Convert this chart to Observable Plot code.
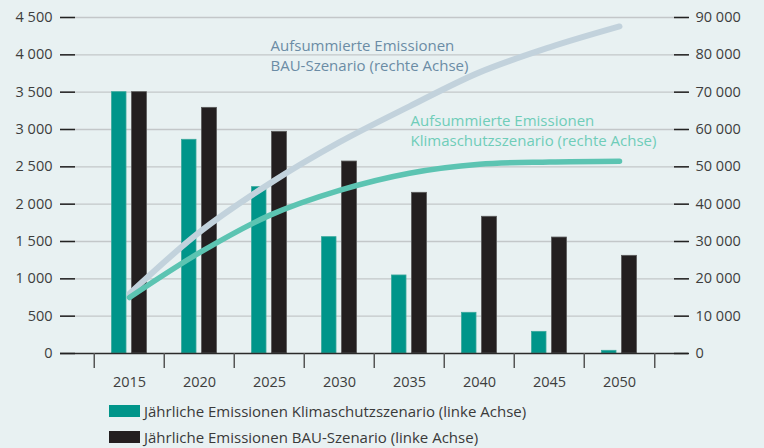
<!DOCTYPE html>
<html><head><meta charset="utf-8">
<script src="https://cdn.jsdelivr.net/npm/d3@7"></script>
<script src="https://cdn.jsdelivr.net/npm/@observablehq/plot@0.6"></script>
<style>
html,body{margin:0;padding:0;background:#e8f1f2;}
body{width:764px;height:448px;overflow:hidden;font-family:"Open Sans",sans-serif;}
#chart svg{display:block;}
.legend{padding-left:109px;padding-top:2px;}
.row{display:flex;align-items:center;height:26px;font-size:15px;color:#3a3a3a;white-space:nowrap;}
.sw{width:31px;height:12px;margin-right:4px;flex:none;}
</style></head>
<body>
<div id="chart"></div>
<div class="legend" id="legend"></div>
<script>
const years = ["2015","2020","2025","2030","2035","2040","2045","2050"];
const klimaAnnual = [3500, 2862, 2228, 1558, 1045, 545, 290, 36];
const bauAnnual = [3500, 3290, 2969, 2571, 2152, 1831, 1553, 1308];
const bauCumulative = [16000, 32500, 45500, 56600, 66200, 75300, 82000, 87600];
const klimaCumulative = [15000, 27000, 37000, 43700, 48300, 50700, 51300, 51500];
const leftTicks = [0, 500, 1000, 1500, 2000, 2500, 3000, 3500, 4000, 4500];
const rightPerLeft = 20;
const legendLabels = [
  "Jährliche Emissionen Klimaschutzszenario (linke Achse)",
  "Jährliche Emissionen BAU-Szenario (linke Achse)"
];
const annotations = [
  {year: "2025", value: 80000, label: "Aufsummierte Emissionen\nBAU-Szenario (rechte Achse)", key: "bau"},
  {year: "2035", value: 60000, label: "Aufsummierte Emissionen\nKlimaschutzszenario (rechte Achse)", key: "klima"}
];

const colors = {klimaBar: "#00958a", bauBar: "#231f20", bauLine: "#c2d2dc", klimaLine: "#5cc4b2", bauText: "#6b8ca5", klimaText: "#6fcdb9"};

const fmt = d3.formatLocale({decimal: ",", thousands: " ", grouping: [3], currency: ["", ""]}).format(",d");

const W = 764, H = 396, mL = 60, mR = 76, mT = 17, mB = 43;
const padOuter = 0.454;
const step = (W - mL - mR) / (years.length + 2 * padOuter);

const bars = years.map((y, i) => ({year: y, klima: klimaAnnual[i], bau: bauAnnual[i]}));
const cum = years.map((y, i) => ({year: y, bau: bauCumulative[i] / rightPerLeft, klima: klimaCumulative[i] / rightPerLeft}));
const notes = annotations.map(a => ({...a, v: a.value / rightPerLeft}));

const plot = Plot.plot({
  width: W, height: H,
  marginLeft: mL, marginRight: mR, marginTop: mT, marginBottom: mB,
  style: {background: "transparent", fontFamily: "'Open Sans', sans-serif", fontSize: "14.5px", color: "#3d3d3d", overflow: "visible"},
  x: {type: "band", domain: years, paddingInner: 0, paddingOuter: padOuter, axis: null, label: null},
  y: {domain: [0, 4500], axis: null, label: null},
  marks: [
    Plot.ruleY(leftTicks.filter(d => d > 0), {stroke: "#c3c7c9", strokeWidth: 1.3}),
    Plot.barY(bars, {x: "year", y: "klima", fill: colors.klimaBar, stroke: "#3aa89c", strokeWidth: 0.8, insetLeft: 17.5, insetRight: 38}),
    Plot.barY(bars, {x: "year", y: "bau", fill: colors.bauBar, stroke: "#5a5a5a", strokeWidth: 0.8, insetLeft: 37.5, insetRight: 17.5}),
    Plot.ruleY([0], {stroke: "#2b2b2b", strokeWidth: 1.5}),
    Plot.line(cum, {x: "year", y: "bau", stroke: colors.bauLine, strokeWidth: 6, curve: "catmull-rom", strokeLinecap: "round"}),
    Plot.line(cum, {x: "year", y: "klima", stroke: colors.klimaLine, strokeWidth: 5.5, curve: "catmull-rom", strokeLinecap: "round"}),
    Plot.text(notes, {x: "year", y: "v", text: "label", textAnchor: "start", lineAnchor: "middle", lineHeight: 1.33, fontSize: 15, dx: 1,
      fill: d => d.key === "bau" ? colors.bauText : colors.klimaText}),
    Plot.axisY(leftTicks, {anchor: "left", label: null, tickSize: 15, dx: 15, tickPadding: 8, stroke: "#222", strokeWidth: 1.5, tickFormat: fmt, fill: "#3d3d3d"}),
    Plot.axisY(leftTicks, {anchor: "right", label: null, tickSize: 15, dx: -15, tickPadding: 7, stroke: "#222", strokeWidth: 1.5, tickFormat: d => fmt(d * rightPerLeft), fill: "#3d3d3d"}),
    Plot.axisX(years, {label: null, tickSize: 15, dx: -step / 2, tickFormat: () => "", stroke: "#555", strokeWidth: 1.5}),
    Plot.axisX([years[years.length - 1]], {label: null, tickSize: 15, dx: step / 2, tickFormat: () => "", stroke: "#555", strokeWidth: 1.5}),
    Plot.axisX(years, {label: null, tickSize: 0, tickPadding: 23, fill: "#3d3d3d"})
  ]
});
document.getElementById("chart").appendChild(plot);

const legend = document.getElementById("legend");
[colors.klimaBar, colors.bauBar].forEach((c, i) => {
  const row = document.createElement("div");
  row.className = "row";
  const sw = document.createElement("span");
  sw.className = "sw";
  sw.style.background = c;
  const t = document.createElement("span");
  t.textContent = legendLabels[i];
  row.appendChild(sw); row.appendChild(t);
  legend.appendChild(row);
});
</script>
</body></html>
